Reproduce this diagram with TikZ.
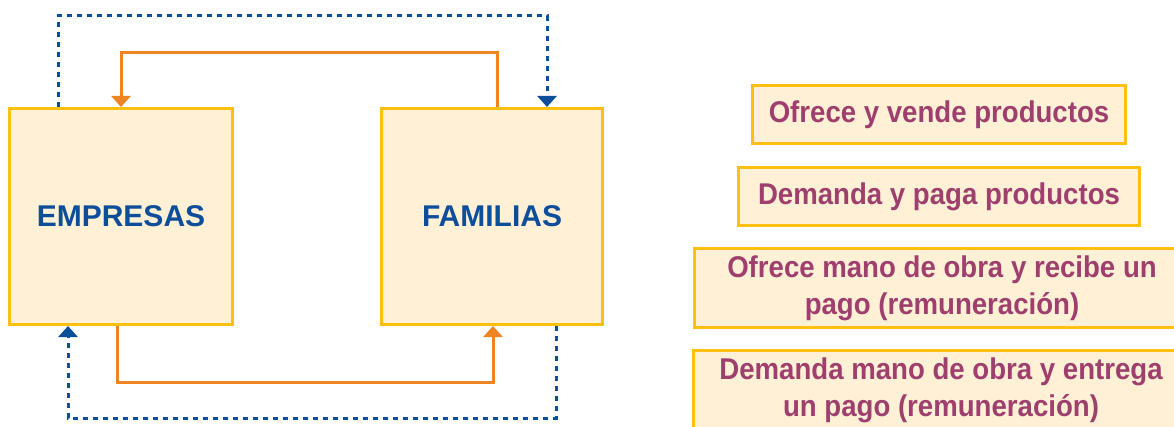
\documentclass[tikz,border=0pt]{standalone}
\usepackage{fontspec}
\setmainfont{Liberation Sans}
\newfontfamily\titlefont{Liberation Sans Bold}
\newfontfamily\rfont{Liberation Sans Bold}[FakeStretch=0.92]
\usetikzlibrary{arrows.meta}
\definecolor{boxfill}{HTML}{FFF0D6}
\definecolor{boxborder}{HTML}{FDC010}
\definecolor{titleblue}{HTML}{0D4E9B}
\definecolor{textmag}{HTML}{9E3F6E}
\definecolor{flowor}{HTML}{EE8522}
\definecolor{flowblue}{HTML}{0B4E9A}
\begin{document}
\begin{tikzpicture}[x=1pt,y=-1pt,
  mainbox/.style={draw=boxborder, fill=boxfill, line width=3pt, minimum height=216pt,
    inner sep=0pt, font=\titlefont\fontsize{30}{36}\selectfont, text=titleblue},
  infobox/.style={draw=boxborder, fill=boxfill, line width=3pt, inner sep=0pt,
    align=center, text=textmag, font=\rfont\fontsize{30}{37}\selectfont},
  orangeflow/.style={draw=flowor, line width=3pt, -{Triangle[width=19pt,length=11pt]}},
  blueflow/.style={draw=flowblue, line width=3pt, dash pattern=on 5pt off 5pt,
    -{Triangle[width=19pt,length=11pt]}}]
\clip (0,0) rectangle (1174,427);
\fill[white] (0,0) rectangle (1174,427);

\node[mainbox, minimum width=223pt] (emp) at (121,216.5) {EMPRESAS};
\node[mainbox, minimum width=221pt] (fam) at (492,216.5) {FAMILIAS};

\node[infobox, minimum width=373pt, minimum height=58pt] (i1) at (939,114.5) {Ofrece y vende productos};
\node[infobox, minimum width=401pt, minimum height=58pt] (i2) at (939,196.5) {Demanda y paga productos};
\node[infobox, minimum width=495pt, minimum height=79pt] (i3) at (942,288) {Ofrece mano de obra y recibe un\\pago (remuneración)};
\node[infobox, minimum width=495pt, minimum height=79pt] (i4) at (941,390) {Demanda mano de obra y entrega\\un pago (remuneración)};

\coordinate (bt1) at (58,16);
\coordinate (bt2) at (547,16);
\coordinate (ot1) at (121,53);
\coordinate (ot2) at (497,53);
\coordinate (ob1) at (117,382);
\coordinate (ob2) at (493,382);
\coordinate (bb1) at (556,418);
\coordinate (bb2) at (68,418);

\draw[blueflow] (emp.north -| bt1) |- (bt2) -- (fam.north -| bt2);
\draw[orangeflow] (fam.north -| ot2) |- (ot1) -- (emp.north -| ot1);
\draw[orangeflow] (emp.south -| ob1) |- (ob2) -- (fam.south -| ob2);
\draw[blueflow] (fam.south -| bb1) |- (bb2) -- (emp.south -| bb2);
\end{tikzpicture}
\end{document}
